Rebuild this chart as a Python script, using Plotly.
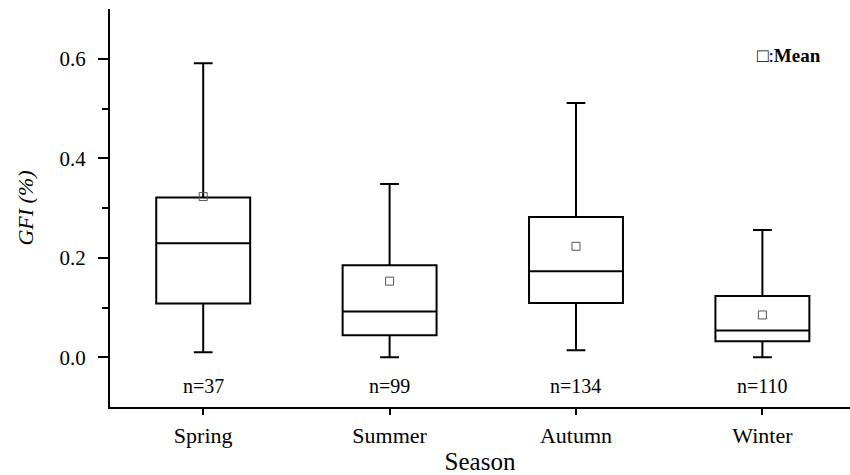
import plotly.graph_objects as go

seasons = ["Spring", "Summer", "Autumn", "Winter"]
lower = [0.010, 0.000, 0.014, 0.000]
q1 = [0.108, 0.044, 0.109, 0.032]
median = [0.229, 0.092, 0.173, 0.054]
q3 = [0.321, 0.185, 0.282, 0.123]
upper = [0.591, 0.348, 0.511, 0.256]
means = [0.323, 0.153, 0.223, 0.085]
counts = [37, 99, 134, 110]
n_label_y = -0.057

FONT = "Liberation Serif, Times New Roman, serif"

fig = go.Figure()
fig.add_trace(go.Box(
    x=seasons, q1=q1, median=median, q3=q3,
    lowerfence=lower, upperfence=upper,
    width=0.504, whiskerwidth=0.2,
    line=dict(color="black", width=2),
    fillcolor="rgba(0,0,0,0)",
    boxpoints=False, showlegend=False, hoverinfo="skip",
))
fig.add_trace(go.Scatter(
    x=seasons, y=means, mode="markers", name="Mean",
    marker=dict(symbol="square-open", size=8, color="#555555", line=dict(width=1)),
    showlegend=False,
))
for s, n in zip(seasons, counts):
    fig.add_annotation(x=s, y=n_label_y, text=f"n={n}", showarrow=False,
                       font=dict(family=FONT, size=20, color="black"))
fig.add_annotation(xref="paper", yref="paper", x=0.9635, y=0.884,
                   xanchor="right", yanchor="middle",
                   text="□:<b>Mean</b>", showarrow=False,
                   font=dict(family=FONT, size=19, color="black"))

fig.update_layout(
    width=850, height=475,
    margin=dict(l=110, r=0, t=9, b=68),
    paper_bgcolor="white", plot_bgcolor="white",
    font=dict(family=FONT, color="black"),
    showlegend=False,
)
fig.update_xaxes(
    type="category", range=[-0.5, 3.47],
    showline=True, linecolor="black", linewidth=2,
    ticks="outside", ticklen=6, tickwidth=2, tickcolor="black",
    tickfont=dict(family=FONT, size=22), ticklabelstandoff=2,
    showgrid=False, zeroline=False,
    title=dict(text="Season", font=dict(family=FONT, size=25), standoff=5),
)
fig.update_yaxes(
    range=[-0.1, 0.7],
    tickvals=[0.0, 0.2, 0.4, 0.6], tickformat=".1f",
    showline=True, linecolor="black", linewidth=2,
    ticks="outside", ticklen=10, tickwidth=2, tickcolor="black",
    minor=dict(tickvals=[0.1, 0.3, 0.5], ticks="outside", ticklen=6, tickwidth=2, tickcolor="black"),
    tickfont=dict(family=FONT, size=21), ticklabelstandoff=8,
    showgrid=False, zeroline=False,
    title=dict(text="<i>GFI (%)</i>", font=dict(family=FONT, size=22), standoff=20),
)
fig.write_html("out.html")
